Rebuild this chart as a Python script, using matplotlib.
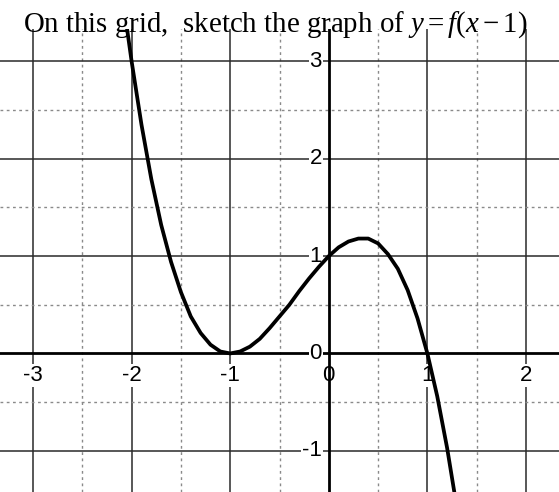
import matplotlib
matplotlib.use("Agg")
import matplotlib.pyplot as plt
import numpy as np

# points of y = f(x - 1) as sketched on the grid
curve_x = [-2.05, -2.0, -1.9, -1.8, -1.7, -1.6, -1.5, -1.4, -1.3, -1.2, -1.1, -1.0,
           -0.9, -0.8, -0.7, -0.6, -0.5, -0.4, -0.3, -0.2, -0.1, 0.0,
           0.1, 0.2, 0.3, 0.4, 0.5, 0.6, 0.7, 0.8, 0.9, 1.0, 1.1, 1.2, 1.3]
curve_y = [3.36, 3.0, 2.35, 1.79, 1.32, 0.94, 0.63, 0.38, 0.21, 0.09, 0.02, 0.0,
           0.02, 0.07, 0.15, 0.26, 0.38, 0.50, 0.64, 0.77, 0.89, 1.0,
           1.09, 1.15, 1.18, 1.18, 1.13, 1.02, 0.87, 0.65, 0.36, 0.0, -0.44, -0.97, -1.59]

x_ticks = [-3, -2, -1, 0, 1, 2]
y_ticks = [-1, 0, 1, 2, 3]

plt.rcParams['mathtext.fontset'] = 'custom'
plt.rcParams['mathtext.rm'] = 'Liberation Serif'
plt.rcParams['mathtext.it'] = 'Liberation Serif:italic'

fig = plt.figure(figsize=(5.59, 4.92), dpi=100)
ax = fig.add_axes([0, 0, 1, 0.942])
ax.set_xlim(-3.335, 2.335)
ax.set_ylim(-1.423, 3.337)
ax.axis('off')

# grid: solid on whole units, dotted on halves
for v in np.arange(-3.0, 2.5, 0.5):
    if v == 0:
        continue
    if v == int(v):
        ax.axvline(v, color='#2a2a2a', lw=1.1, zorder=1)
    else:
        ax.axvline(v, color='#8a8a8a', lw=1.0, ls=(0, (2, 2.5)), zorder=1)
for v in np.arange(-1.0, 3.5, 0.5):
    if v == 0:
        continue
    if v == int(v):
        ax.axhline(v, color='#2a2a2a', lw=1.1, zorder=1)
    else:
        ax.axhline(v, color='#8a8a8a', lw=1.0, ls=(0, (2, 2.5)), zorder=1)

# x = 0 label sits under the y axis
ax.text(0, -0.225, '0', ha='center', va='center', fontsize=16,
        family='Liberation Sans', zorder=2,
        bbox=dict(fc='white', ec='none', pad=0.5))

ax.axhline(0, color='black', lw=2.0, zorder=3)
ax.axvline(0, color='black', lw=2.0, zorder=3)

for t in x_ticks:
    if t == 0:
        continue
    ax.text(t, -0.225, str(t), ha='center', va='center',
            fontsize=16, family='Liberation Sans', zorder=4,
            bbox=dict(fc='white', ec='none', pad=0.5))
for t in y_ticks:
    ax.text(-0.07, t, str(t), ha='right', va='center',
            fontsize=16, family='Liberation Sans', zorder=4,
            bbox=dict(fc='white', ec='none', pad=0.5))

ax.plot(curve_x, curve_y, color='black', lw=2.7, zorder=5,
        solid_capstyle='round', solid_joinstyle='round')

fig.text(0.493, 1 - 32 / 492, 'On this grid,  sketch the graph of $y = f(x - 1)$',
         ha='center', va='baseline', fontsize=20.8, family='Liberation Serif')

fig.savefig('out.png', dpi=100)
